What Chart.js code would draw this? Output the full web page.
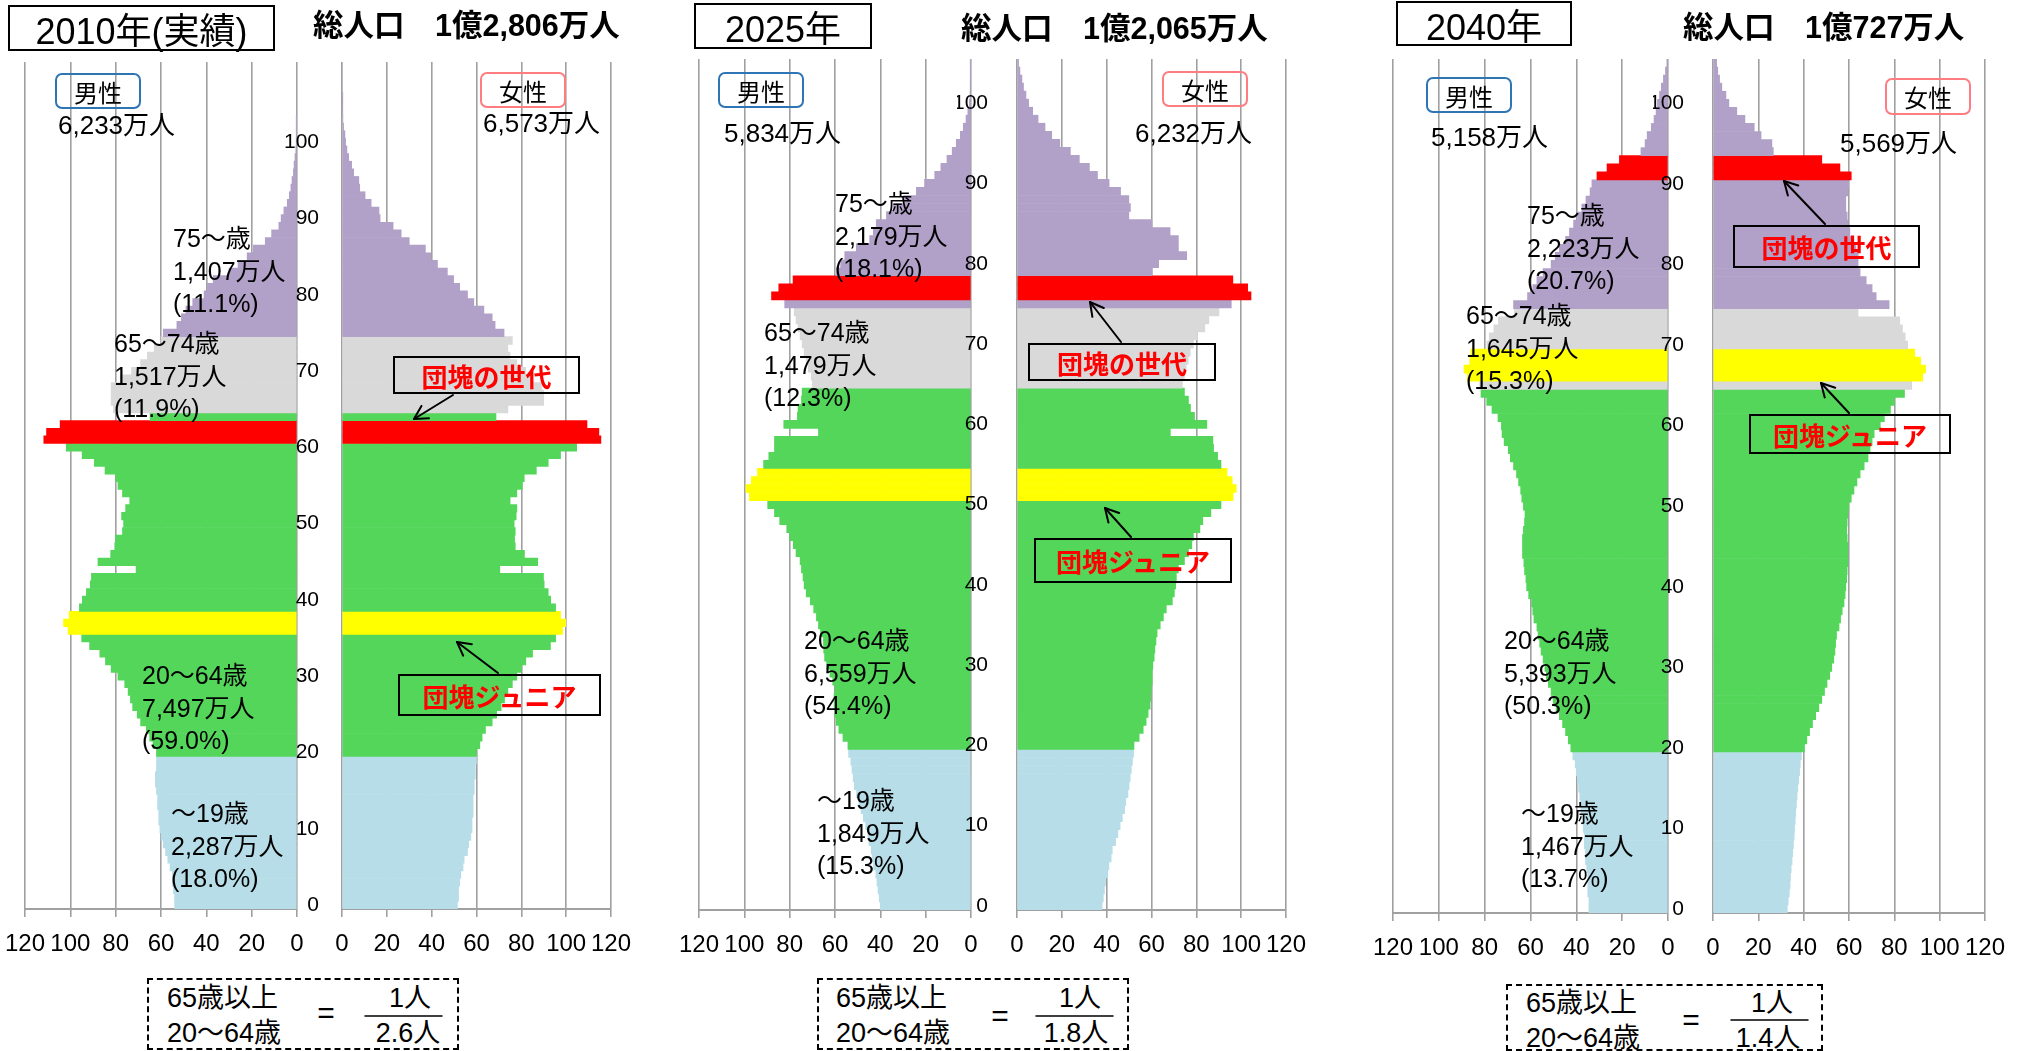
<!DOCTYPE html>
<html><head><meta charset="utf-8">
<script src="https://cdn.jsdelivr.net/npm/chart.js@4.4.1/dist/chart.umd.min.js"></script>
<style>
html,body{margin:0;padding:0;background:#fff;}
body{width:2020px;height:1051px;position:relative;overflow:hidden;font-family:"Liberation Sans","Noto Sans CJK JP",sans-serif;color:#000;}
canvas{position:absolute;}
.t{position:absolute;white-space:nowrap;}
.box{position:absolute;box-sizing:border-box;display:flex;align-items:center;justify-content:center;white-space:nowrap;}
svg{position:absolute;left:0;top:0;}
</style></head><body>
<script>
// ---------------- DATA ----------------
const ages2010 = Array.from({length:111},(_,i)=>i);
const ages2025 = Array.from({length:106},(_,i)=>i);
const ages2040 = Array.from({length:106},(_,i)=>i);
const xTicks = [0,20,40,60,80,100,120];

const male2010 = [
54,54,54.5,55,55,56,57,58,59,60,
60.5,61,61,61.5,61.5,62,62.5,62.5,62,62,
62,63.5,65,66.5,69,70.5,72.5,73.5,74.5,76,
79,82,84.5,87,91.5,95,101,103,100.5,96,
94.7,92.9,91.2,90.7,71,87.8,82.2,80.4,80,77,
76.5,77.4,75.6,73.8,77,79,80,84.7,89.4,94.8,
101.8,111.7,110.5,104.5,64.8,81,82,82,82,78,
73,69,66,63,60,59,53,51,49,46,
41,39.5,37,30,26,22,19.3,14,11.2,8,
7,5.8,4.3,3.4,2.7,2.2,1.6,1.3,0.9,0.5,
0.3,0.2,0.1,0.1,0,0,0,0,0,0,0];
const female2010 = [
51.5,52,52,52.5,53,54,54.5,56,56.5,57.5,
58,58,58.5,58.5,58.5,59,59,59.5,59.5,60,
60,61.5,62.5,64,67,69,71,72.5,74,76,
78,80,82,85,93,95.3,98.4,99.8,97.5,95.3,
93.1,92,90.2,89.9,70.4,87.3,81.4,77.3,77,77.3,
76.8,77.7,78,75,78,80.4,81.3,86.7,92,97.5,
104.7,115.5,114.6,109.3,68.7,74,90,90,89,85,
82,78,75,74,76,72.3,68.3,67,63.3,58.8,
56,52.5,49.8,47,42.6,39.6,37.2,30,26.4,22.8,
17,16.5,13,10.3,7.9,7.5,5.2,4.3,3,2.2,
1.6,1.3,0.7,0.4,0.2,0.1,0.1,0,0,0,0];
const male2025 = [
40,40.5,41,41.5,42,43,43.5,44,45,45.5,
46.5,47.5,48.5,49.5,50.5,51.5,52,52.5,53,54,
54.3,56.5,58.3,59.5,60.1,60.4,60.4,60,61,62.2,
63.7,64.6,65,65.1,66.4,67.3,68.2,69.4,70.9,72.7,
73.6,74.1,74.8,75.4,77.2,78.4,79.9,81.3,84.4,86.7,
89.7,97.8,99.3,96.9,94.2,91.5,89.2,86.7,86.7,67.3,
82.6,76.6,76.3,74.8,74.5,70,70.5,71.8,72.7,73.6,
74.5,75.4,76.3,77.2,78,82.2,88,84.8,78.5,59.4,
57.5,55.7,50.6,44.7,43.1,41.8,37.3,34.4,29.7,24.1,
20.5,16,13.3,10.6,8.3,6.5,4.7,3.4,2.2,1.4,
0.7,0.4,0.25,0.15,0.1,0.05];
const female2025 = [
38,38.5,39,39.5,40.5,41,42,42.5,44,45,
46,47,48,48.5,49.5,50,50.5,51,51.5,52,
52.2,54.5,56.3,57.6,58.5,59.4,59.7,59.9,60.3,60.3,
60.6,61.2,61.5,62,62.5,63.9,65.3,66.6,69.3,70.2,
70.8,71.1,72,74.7,76.5,78,78.7,81.6,82.9,86.5,
91,96.4,97.8,96,93.7,91,89.5,87.7,87.4,68.4,
84.7,79.2,77.4,76.5,74.7,73.8,74.7,75.5,76.4,77.3,
78.7,80.5,83.8,85.6,90.1,95.6,104.4,102.9,96.3,60.2,
63.2,75.7,72,72,68.3,60.2,49.9,50.6,49.9,46.2,
41.1,35.9,32.3,27.8,23.8,19.1,15.5,12.5,9.4,7,
5.2,4,2.9,2.2,1.3,0.7];
const male2040 = [
34.5,34.5,35,35,35,35.5,36,36,36.5,36.5,
37,37.5,38,38,38.5,39,39.5,40,40.5,41.5,
42.4,43.5,44.7,46,47.4,48.8,50.1,51,52.2,53.1,
53.7,54.5,55.4,56,56.7,57.2,58.5,59,59.5,60.8,
61.7,62,62.6,62.9,63.5,63.5,63.5,63.1,62.6,62.4,
63.1,63.8,64.3,65.2,66.1,67.4,68.8,69.7,71.5,72.4,
72.7,74.2,76.8,79.1,81.6,82.2,87.5,89,86.5,86,
79,78,76,74,67,67.4,61.3,59,57.2,54.5,
51,49.2,47.4,44.7,43,41.2,39.4,37.6,35.8,34,
33.2,31,26.6,21.2,11.8,10,9.1,7.3,6.1,5.2,
4.6,3.7,2.9,2,1.1,0.5];
const female2040 = [
32.8,33.2,33.7,34,34.2,34.5,34.9,35.2,35.5,35.8,
36,36.3,36.5,36.8,37.1,37.4,37.8,38.2,38.5,39,
40.3,41.4,42.6,43.9,45.3,46.7,48,49.2,50.3,51.5,
52.4,53.3,53.8,54.1,54.5,55.6,56.3,57,57.8,58.3,
58.6,59,59.2,59.5,59.5,59.5,59.2,59,59.2,59.5,
59.9,61,62.2,63.5,64.9,66.7,68.4,69.3,70.2,71.1,
73.8,75.6,78.3,80,84.5,87.7,92.5,93.8,91.6,89,
85.9,84.8,83.6,82.4,64,77.7,72,70.2,67.6,64.9,
64,64,63.1,61.3,60.4,59.5,59.2,58.6,58.6,59.5,
59.9,61,56,48,26.6,26,21.2,18.2,14.1,10.5,
7,5.7,3.9,2.9,2.1,1.6];

// highlighted generations (ages)
const boomer2010 = [61,62,63], junior2010 = [36,37,38];
const boomer2025 = [76,77,78], junior2025 = [51,52,53,54];
const boomer2040 = [91,92,93], junior2040 = [66,67,68,69];

// ---------------- STYLE ----------------
const C_YOUNG='#B7DEE8', C_WORK='#53D65A', C_OLD1='#D9D9D9', C_OLD2='#B1A0C7', C_BOOM='#FF0000', C_JUN='#FFFF00';
const GRID='#A0A0A0';
const FONT="'Liberation Sans','Noto Sans CJK JP',sans-serif";
Chart.defaults.font.family = FONT;
Chart.defaults.color = '#000';

function barColors(ages, boomer, junior){
  return ages.map(a => boomer.includes(a) ? C_BOOM : junior.includes(a) ? C_JUN :
    a < 20 ? C_YOUNG : a < 65 ? C_WORK : a < 75 ? C_OLD1 : C_OLD2);
}

function makeHalf(cfg){
  const padX=30, padTop=40, axisH=60, yW=60;
  const cv=document.createElement('canvas');
  const left = cfg.female ? cfg.L - yW : cfg.L - padX;
  const width = (cfg.R - cfg.L) + (cfg.female ? yW + padX : 2*padX);
  const top = cfg.T - padTop;
  const height = (cfg.B - cfg.T) + padTop + axisH;
  cv.width=width; cv.height=height;
  cv.style.left=left+'px'; cv.style.top=top+'px';
  cv.style.width=width+'px'; cv.style.height=height+'px';
  document.body.appendChild(cv);
  const yScale = {type:'category',reverse:true,offset:true,display:!!cfg.female,
    grid:{display:false},border:{display:false},
    ticks:{autoSkip:false,padding:cfg.labelPad||0,font:{size:21},color:'#000',
      callback:(v,i)=>(cfg.ages[i]%10===0 && cfg.ages[i]<=100)?String(cfg.ages[i]):''}};
  if (cfg.female) yScale.afterFit = s=>{s.width=yW;};
  new Chart(cv,{
    type:'bar',
    data:{labels:cfg.ages.map(String),datasets:[{data:cfg.values,backgroundColor:cfg.colors,borderWidth:0,barPercentage:1,categoryPercentage:1}]},
    options:{
      indexAxis:'y',responsive:false,animation:false,devicePixelRatio:1,
      layout:{padding:{left:cfg.female?0:padX,right:padX,top:padTop,bottom:0}},
      plugins:{legend:{display:false},tooltip:{enabled:false}},
      scales:{
        x:{type:'linear',min:0,max:120,reverse:!cfg.female,
           afterBuildTicks:s=>{s.ticks=xTicks.map(v=>({value:v}));},
           ticks:{font:{size:24},color:'#000',padding:13,maxRotation:0,autoSkip:false},
           grid:{color:GRID,lineWidth:1.6,drawTicks:true,tickLength:8,tickColor:GRID},
           border:{display:true,color:GRID,width:2},
           afterFit:s=>{s.height=axisH;}},
        y:yScale
      }
    }
  });
}

// Panels
makeHalf({L:25,R:297,T:62,B:909,female:false,ages:ages2010,values:male2010,colors:barColors(ages2010,boomer2010,junior2010)});
makeHalf({L:342,R:614,T:62,B:909,female:true,labelPad:15,ages:ages2010,values:female2010,colors:barColors(ages2010,boomer2010,junior2010)});
makeHalf({L:699,R:971,T:59,B:910,female:false,ages:ages2025,values:male2025,colors:barColors(ages2025,boomer2025,junior2025)});
makeHalf({L:1017,R:1289,T:59,B:910,female:true,labelPad:21,ages:ages2025,values:female2025,colors:barColors(ages2025,boomer2025,junior2025)});
makeHalf({L:1393,R:1668,T:59,B:913,female:false,ages:ages2040,values:male2040,colors:barColors(ages2040,boomer2040,junior2040)});
makeHalf({L:1713,R:1988,T:59,B:913,female:true,labelPad:21,ages:ages2040,values:female2040,colors:barColors(ages2040,boomer2040,junior2040)});

// ---------------- ANNOTATIONS ----------------
function txt(s,x,cy,size,opt){
  opt=opt||{};
  const d=document.createElement('div');
  d.className='t'; d.textContent=s;
  d.style.fontSize=size+'px'; d.style.lineHeight=Math.round(size*1.2)+'px';
  d.style.top=(cy-Math.round(size*1.2)/2)+'px';
  d.style.left=x+'px';
  if(opt.center) d.style.transform='translateX(-50%)';
  if(opt.bold) d.style.fontWeight='bold';
  if(opt.color) d.style.color=opt.color;
  document.body.appendChild(d);
}
function box(s,l,t,w,h,size,opt){
  opt=opt||{};
  const d=document.createElement('div');
  d.className='box'; d.textContent=s;
  Object.assign(d.style,{left:l+'px',top:t+'px',width:w+'px',height:h+'px',fontSize:size+'px',
    border:(opt.bw||2)+'px '+(opt.dash?'dashed':'solid')+' '+(opt.bc||'#000'),
    borderRadius:(opt.r||0)+'px',color:opt.color||'#000',fontWeight:opt.bold?'bold':'normal'});
  document.body.appendChild(d);
  return d;
}
function lines3(arr,x,cy,size){ arr.forEach((s,i)=>txt(s,x,cy+i*32.5,size)); }

// Panel 1 (2010)
box('2010年(実績)',8,5,267,46,36,{bw:2});
txt('総人口　1億2,806万人',313,25,30.5,{bold:true});
box('男性',55,73,86,36,24,{bw:2.5,bc:'#2E75B6',r:7});
box('女性',480,72,86,36,24,{bw:2.5,bc:'#FF7C80',r:7});
txt('6,233万人',58,125,26);
txt('6,573万人',483,123,26);
lines3(['75～歳','1,407万人','(11.1%)'],173,238,25);
lines3(['65～74歳','1,517万人','(11.9%)'],114,343,25);
lines3(['20～64歳','7,497万人','(59.0%)'],142,675,25);
lines3(['～19歳','2,287万人','(18.0%)'],171,813,25);
box('団塊の世代',393,356,187,38,26,{bw:2.5,bold:true,color:'#FF0000'});
box('団塊ジュニア',398,674,203,42,26,{bw:2.5,bold:true,color:'#FF0000'});
box('',147,978,312,72,27,{bw:2,dash:true});
txt('65歳以上',167,998,27); txt('20～64歳',167,1033,27);
txt('=',326,1013,30,{center:true}); txt('1人',410,998,27,{center:true}); txt('2.6人',408,1033,27,{center:true});

// Panel 2 (2025)
box('2025年',694,3,178,46,36,{bw:2});
txt('総人口　1億2,065万人',961,28,30.5,{bold:true});
box('男性',718,72,86,36,24,{bw:2.5,bc:'#2E75B6',r:7});
box('女性',1162,71,86,36,24,{bw:2.5,bc:'#FF7C80',r:7});
txt('5,834万人',724,133,26);
txt('6,232万人',1135,133,26);
lines3(['75～歳','2,179万人','(18.1%)'],835,203,25);
lines3(['65～74歳','1,479万人','(12.3%)'],764,332,25);
lines3(['20～64歳','6,559万人','(54.4%)'],804,640,25);
lines3(['～19歳','1,849万人','(15.3%)'],817,800,25);
box('団塊の世代',1028,343,188,38,26,{bw:2.5,bold:true,color:'#FF0000'});
box('団塊ジュニア',1034,538,198,45,26,{bw:2.5,bold:true,color:'#FF0000'});
box('',817,978,312,72,27,{bw:2,dash:true});
txt('65歳以上',836,998,27); txt('20～64歳',836,1033,27);
txt('=',1000,1016,30,{center:true}); txt('1人',1080,998,27,{center:true}); txt('1.8人',1076,1033,27,{center:true});

// Panel 3 (2040)
box('2040年',1396,1,176,45,36,{bw:2});
txt('総人口　1億727万人',1683,27,30.5,{bold:true});
box('男性',1426,77,86,36,24,{bw:2.5,bc:'#2E75B6',r:7});
box('女性',1885,78,86,37,24,{bw:2.5,bc:'#FF7C80',r:7});
txt('5,158万人',1431,137,26);
txt('5,569万人',1840,143,26);
lines3(['75～歳','2,223万人','(20.7%)'],1527,215,25);
lines3(['65～74歳','1,645万人','(15.3%)'],1466,315,25);
lines3(['20～64歳','5,393万人','(50.3%)'],1504,640,25);
lines3(['～19歳','1,467万人','(13.7%)'],1521,813,25);
box('団塊の世代',1733,225,187,43,26,{bw:2.5,bold:true,color:'#FF0000'});
box('団塊ジュニア',1749,414,202,40,26,{bw:2.5,bold:true,color:'#FF0000'});
box('',1506,984,317,67,27,{bw:2,dash:true});
txt('65歳以上',1526,1003,27); txt('20～64歳',1526,1038,27);
txt('=',1691,1020,30,{center:true}); txt('1人',1772,1003,27,{center:true}); txt('1.4人',1768,1038,27,{center:true});

// SVG: arrows and fraction bars
const NS='http://www.w3.org/2000/svg';
const svg=document.createElementNS(NS,'svg');
svg.setAttribute('width','2020'); svg.setAttribute('height','1051');
document.body.appendChild(svg);
function line(x1,y1,x2,y2,w){
  const l=document.createElementNS(NS,'line');
  l.setAttribute('x1',x1);l.setAttribute('y1',y1);l.setAttribute('x2',x2);l.setAttribute('y2',y2);
  l.setAttribute('stroke','#000');l.setAttribute('stroke-width',w||2);l.setAttribute('stroke-linecap','round');
  svg.appendChild(l);
}
function arrow(x1,y1,x2,y2){
  line(x1,y1,x2,y2,2);
  const a=Math.atan2(y2-y1,x2-x1), L=15, s=0.5;
  line(x2,y2,x2-L*Math.cos(a-s),y2-L*Math.sin(a-s),2);
  line(x2,y2,x2-L*Math.cos(a+s),y2-L*Math.sin(a+s),2);
}
arrow(453,395,414,419);
arrow(498,673,457,642);
arrow(1121,342,1090,302);
arrow(1131,537,1105,508);
arrow(1825,224,1784,181);
arrow(1849,413,1821,383);
line(365,1016,442,1016,1.5);
line(1036,1016,1113,1016,1.5);
line(1731,1020,1808,1020,1.5);
</script>
</body></html>
